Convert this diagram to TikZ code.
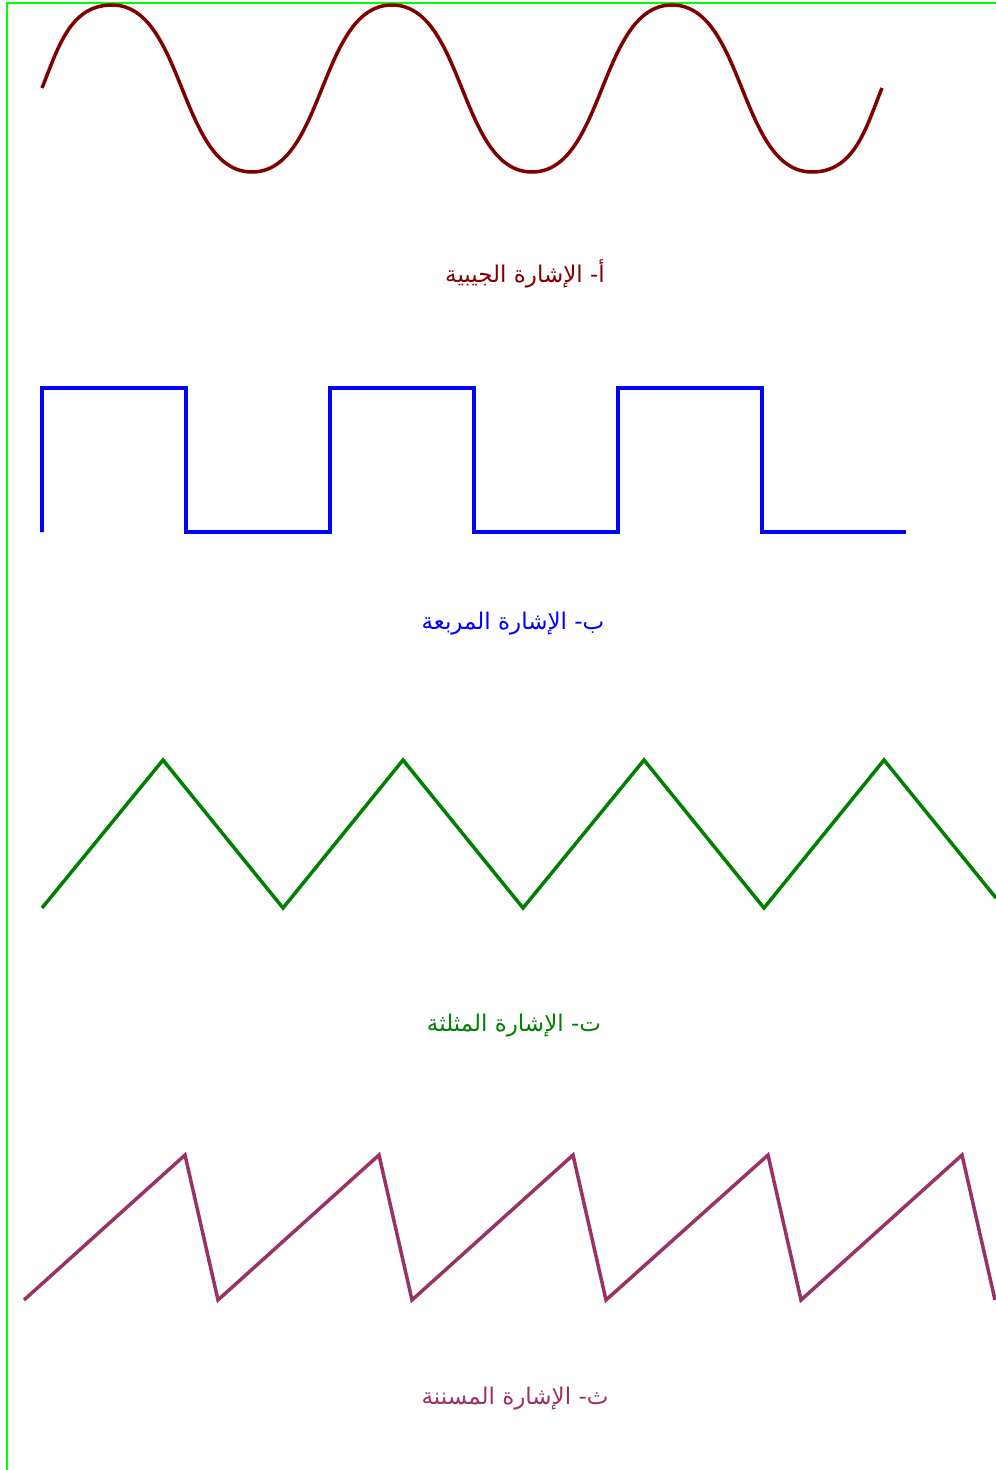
\documentclass[tikz,border=0pt]{standalone}
\usepackage{fontspec}
\newfontfamily\arabicfont[Script=Arabic]{DejaVu Sans}
\TeXXeTstate=1
\usepackage{tikz}
\usetikzlibrary{positioning, calc}
\usepackage{xcolor}
\definecolor{sigSine}{HTML}{800000}
\definecolor{sigSquare}{HTML}{0000FF}
\definecolor{sigTriangle}{HTML}{008000}
\definecolor{sigSaw}{HTML}{993366}
\definecolor{sigFrame}{HTML}{00FF00}

\begin{document}
\begin{tikzpicture}[x=1pt, y=-1pt, line join=miter,
    wave/.style={line width=3.5pt},
    caption/.style={font=\arabicfont\fontsize{23}{27}\selectfont, inner sep=0pt}]
  \useasboundingbox (0,0) rectangle (996,1470);
  % cadre
  \draw[sigFrame, line width=2pt] (7,1470) -- (7,2.5) -- (996,2.5);

  % sinus
  \draw[wave, sigSine, looseness=0.85] (42,88) to[out=68, in=180, looseness=1] (112,5)
    \foreach \p/\t in {252/172, 392/5, 532/172, 672/5, 812/172} {
      to[out=0, in=180] (\p,\t)
    } to[out=0, in=248, looseness=1] (882,88);
  \node[caption, text=sigSine] (lblSine) at (525,274) {\beginR أ- الإشارة الجيبية\endR};

  % carre
  \draw[wave, sigSquare] (42,531)
    \foreach \a/\b in {42/186, 330/474, 618/762} {
      -- (\a,532) -- (\a,388) -- (\b,388) -- (\b,532)
    } -- (906,532);
  \node[caption, text=sigSquare] (lblSquare) at (513,624) {\beginR ب- الإشارة المربعة\endR};

  % triangle
  \draw[wave, sigTriangle] (42,908)
    \foreach \a/\b in {163/283, 403/523, 644/764} {
      -- (\a,760) -- (\b,908)
    } -- (884,760) -- (996,898);
  \node[caption, text=sigTriangle] (lblTriangle) at (514,1026) {\beginR ت- الإشارة المثلثة\endR};

  % dents de scie
  \draw[wave, sigSaw] (24,1300)
    \foreach \a/\b in {185/218, 379/412, 573/606, 768/801, 962/995} {
      -- (\a,1155) -- (\b,1300)
    };
  \node[caption, text=sigSaw] (lblSaw) at (515,1399) {\beginR ث- الإشارة المسننة\endR};
\end{tikzpicture}
\end{document}
